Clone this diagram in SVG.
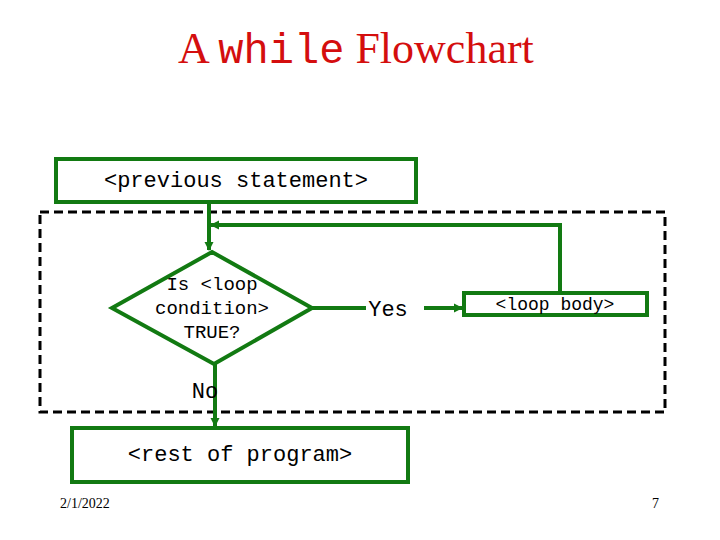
<svg xmlns="http://www.w3.org/2000/svg" width="720" height="540" viewBox="0 0 720 540">
<style>
.box{fill:none;stroke:#127a12;stroke-width:4}
.ln{fill:none;stroke:#127a12;stroke-width:4}
.mono{font-family:"Liberation Mono","Courier New",monospace}
.serif{font-family:"Liberation Serif","Times New Roman",serif}
.blk{fill:#000}
</style>
<defs>
<marker id="ah" markerWidth="10" markerHeight="10" refX="8" refY="5" orient="auto" markerUnits="userSpaceOnUse">
<path d="M0,0.5 L9,5 L0,9.5 z" fill="#127a12"/>
</marker>
</defs>
<rect width="720" height="540" fill="#fff"/>
<text x="178" y="63" class="serif" font-size="44" fill="#d40e0e">A <tspan class="mono" font-size="42" fill="#d40e0e">while</tspan> Flowchart</text>
<g id="loopframe">
<rect x="40" y="212" width="625" height="200" fill="none" stroke="#000" stroke-width="3" stroke-dasharray="9,5"/>
</g>
<g id="connectors">
<path class="ln" d="M209,203 V250" marker-end="url(#ah)"/>
<path class="ln" d="M560,292 V225 H211" marker-end="url(#ah)"/>
<path class="ln" d="M312,308 H366"/>
<path class="ln" d="M424,308 H462" marker-end="url(#ah)"/>
<path class="ln" d="M215,364 V426" marker-end="url(#ah)"/>
</g>
<g id="prev">
<rect class="box" x="56" y="159" width="360" height="43"/>
<text x="236" y="187" class="mono blk" font-size="22" text-anchor="middle">&lt;previous statement&gt;</text>
</g>
<g id="cond">
<polygon class="box" points="212,252 312,308 214,364 112,308"/>
<text class="mono blk" font-size="19" text-anchor="middle"><tspan x="212" y="290">Is &lt;loop</tspan><tspan x="212" y="314">condition&gt;</tspan><tspan x="212" y="338">TRUE?</tspan></text>
</g>
<g id="body">
<rect class="box" x="464" y="293" width="183" height="22"/>
<text x="555" y="310" class="mono blk" font-size="18" text-anchor="middle">&lt;loop body&gt;</text>
</g>
<g id="rest">
<rect class="box" x="72" y="428" width="336" height="54"/>
<text x="240" y="461" class="mono blk" font-size="22" text-anchor="middle">&lt;rest of program&gt;</text>
</g>
<g id="labels">
<text x="388" y="316" class="mono blk" font-size="22" text-anchor="middle">Yes</text>
<text x="205" y="398" class="mono blk" font-size="22" text-anchor="middle">No</text>
<text x="60" y="508" class="serif blk" font-size="14">2/1/2022</text>
<text x="659" y="508" class="serif blk" font-size="14" text-anchor="end">7</text>
</g>
</svg>
